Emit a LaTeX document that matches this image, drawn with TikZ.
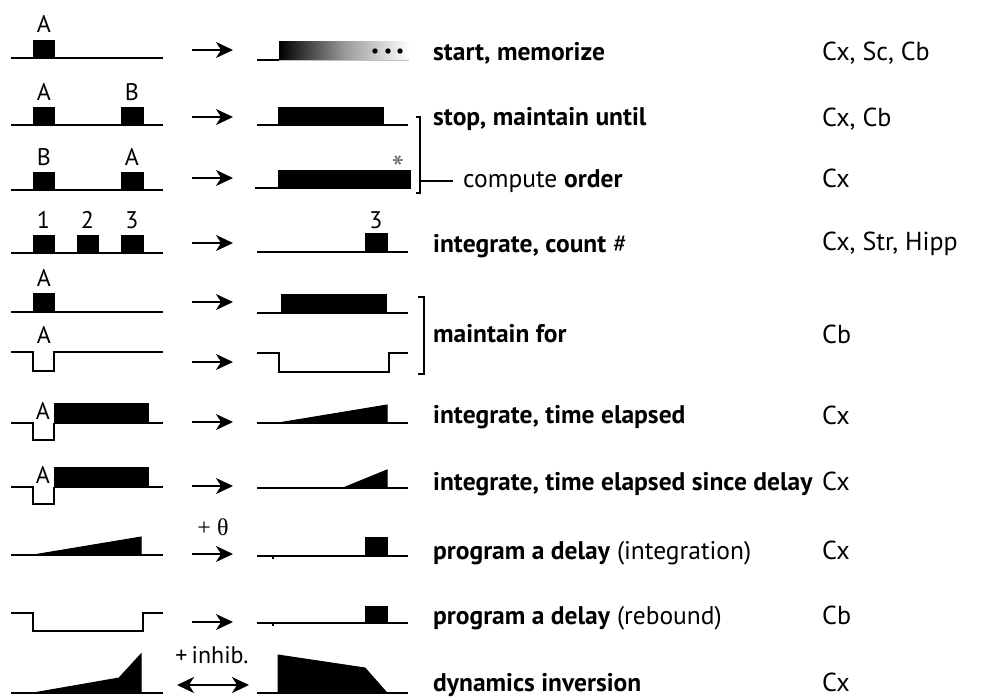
\documentclass[tikz,border=0pt]{standalone}
\usepackage{fontspec}
\setmainfont{PT Sans}
\newfontfamily\grk{Liberation Serif}
\usetikzlibrary{arrows.meta}

\begin{document}
\begin{tikzpicture}[x=1pt,y=-1pt,>={Stealth[length=17pt,width=16pt,inset=5pt]},
 sig/.style={line width=1.6pt},
 blk/.style={fill=black,draw=black,line width=1pt},
 arr/.style={->,line width=1.8pt},
 tag/.style={anchor=base,font=\fontsize{24}{26}\selectfont,inner sep=0pt},
 op/.style={anchor=base west,font=\fontsize{25.5}{28}\selectfont,inner sep=0pt},
 area/.style={anchor=base west,font=\fontsize{26}{28}\selectfont,inner sep=0pt}]
\useasboundingbox (0,0) rectangle (981,697);

% input trains
\draw[sig] (11,58)--(163,58);
\filldraw[blk] (33,58) rectangle (54,40);
\node[tag] (inA1) at (44,32) {A};

\draw[sig] (11,125)--(163,125);
\filldraw[blk] (33,125) rectangle (54,107) (121,125) rectangle (143,107);
\node[tag] (inA2) at (44,100) {A};
\node[tag] (inB2) at (132,100) {B};

\draw[sig] (11,190)--(163,190);
\filldraw[blk] (33,190) rectangle (54,172) (121,190) rectangle (143,172);
\node[tag] (inB3) at (44,165) {B};
\node[tag] (inA3) at (132,165) {A};

\draw[sig] (11,253)--(163,253);
\foreach \n/\a/\b in {1/33/54,2/77/98,3/121/143}{
  \filldraw[blk] (\a,253) rectangle (\b,235);
  \node[tag] (cnt\n) at ({(\a+\b)/2},228) {\n};
}

\draw[sig] (11,312)--(163,312);
\filldraw[blk] (33,312) rectangle (54,293);
\node[tag] (inA5) at (44,286) {A};

\draw[sig] (11,352)--(33,352)--(33,371)--(54,371)--(54,352)--(163,352);
\node[tag] (inA6) at (44,343) {A};

\draw[sig] (11,423)--(33,423)--(33,440)--(54,440)--(54,423);
\filldraw[blk] (54,423) rectangle (148,403);
\draw[sig] (148,423)--(163,423);
\node[tag] (inA7) at (43,419) {A};

\draw[sig] (11,487)--(33,487)--(33,504)--(54,504)--(54,487);
\filldraw[blk] (54,487) rectangle (148,467);
\draw[sig] (148,487)--(163,487);
\node[tag] (inA8) at (43,483) {A};

\draw[sig] (11,555)--(163,555);
\filldraw[blk] (33,555)--(141,537)--(141,555)--cycle;

\draw[sig] (11,613)--(33,613)--(33,631)--(143,631)--(143,613)--(163,613);

\draw[sig] (11,693)--(163,693);
\filldraw[blk] (33,693)--(119,678)--(141,654)--(141,693)--cycle;

% transfer arrows
\foreach \i/\y in {1/50,2/117,3/178,4/243,5/302,6/362,7/422,8/486,9/554,10/622}{
  \coordinate (s\i) at (192,\y);
  \coordinate (e\i) at (233,\y);
  \draw[arr] (s\i)--(e\i);
}
\coordinate (s11) at (177,685);
\coordinate (e11) at (249,685);
\draw[<->,line width=1.8pt] (s11)--(e11);
\node[anchor=base,inner sep=0pt,font=\grk\fontsize{24}{26}\selectfont] (theta) at (213,535) {+ θ};
\node[tag] (inhib) at (212,663) {+\,inhib.};

% output signals
\draw[sig] (257,60)--(279,60);
\shade[left color=black,right color=white,middle color=black!40] (279,60) rectangle (409,41);
\draw[line width=0.8pt,black!25] (279,60)--(409,60);
\foreach \x in {375,388,400}
  \fill (\x,51) circle (2.7);

\draw[sig] (257,125)--(408,125);
\filldraw[blk] (278,125) rectangle (383,107);

\draw[sig] (255,188)--(278,188);
\filldraw[blk] (278,188) rectangle (410,170);
\node[anchor=base,inner sep=0pt,text=black!55,font=\fontsize{36}{36}\selectfont] (star) at (398,181) {*};

\draw[sig] (257,252)--(408,252);
\filldraw[blk] (365,252) rectangle (387,233);
\node[tag] (out3) at (376,228) {3};

\draw[sig] (257,313)--(408,313);
\filldraw[blk] (281,313) rectangle (386,294);

\draw[sig] (257,353)--(279,353)--(279,372)--(389,372)--(389,353)--(408,353);

\draw[sig] (257,423)--(408,423);
\filldraw[blk] (278,423)--(387,405)--(387,423)--cycle;

\draw[sig] (257,488)--(408,488);
\filldraw[blk] (343,488)--(387,470)--(387,488)--cycle;

\draw[sig] (257,556)--(408,556) (273,556)--(273,559);
\filldraw[blk] (365,556) rectangle (387,537);

\draw[sig] (257,623)--(408,623) (273,623)--(273,626);
\filldraw[blk] (365,623) rectangle (387,606);

\draw[sig] (257,693)--(408,693);
\filldraw[blk] (278,693)--(278,655)--(365,668)--(387,693)--cycle;

% brackets
\draw[sig] (416,117)--(420,117)--(420,193)--(416,193);
\coordinate (brk) at (420,181);
\draw[sig] (brk)--(453,181);
\draw[sig] (418,297)--(424,297)--(424,374)--(418,374);

% operations
\node[op] (start) at (433,60) {\bfseries start, memorize};
\node[op] (stop) at (433,125) {\bfseries stop, maintain until};
\node[op] (order) at (463,187) {compute \textbf{order}};
\node[op] (count) at (433,252) {\textbf{integrate, count} \#};
\node[op] (mfor) at (433,342) {\bfseries maintain for};
\node[op] (elap) at (433,423) {\bfseries integrate, time elapsed};
\node[op] (since) at (433,490) {\bfseries integrate, time elapsed since delay};
\node[op] (dint) at (433,559) {\textbf{program a delay} (integration)};
\node[op] (dreb) at (433,624) {\textbf{program a delay} (rebound)};
\node[op] (inv) at (433,691) {\bfseries dynamics inversion};

% brain areas
\foreach \n/\y/\t in {r1/60/{Cx, Sc, Cb},r2/126/{Cx, Cb},r3/187/Cx,r4/250/{Cx, Str, Hipp},
  r5/343/Cb,r6/424/Cx,r7/490/Cx,r8/559/Cx,r9/624/Cb,r10/691/Cx}
  \node[area] (\n) at (822,\y) {\t};
\end{tikzpicture}
\end{document}
